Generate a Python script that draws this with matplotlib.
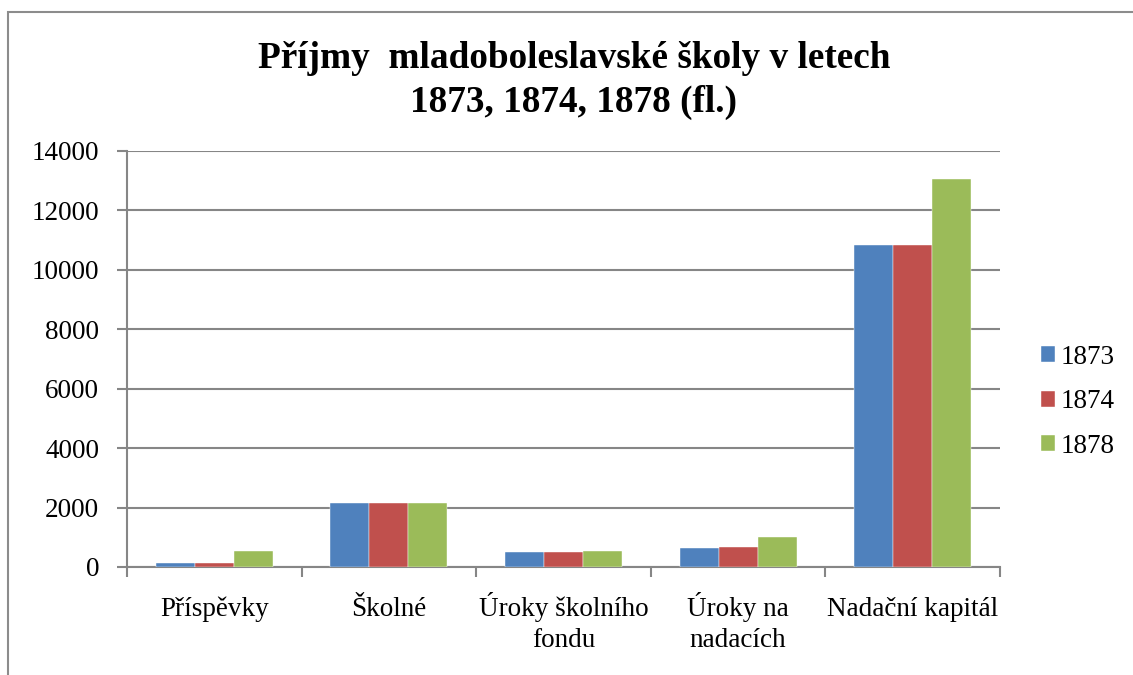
import matplotlib
matplotlib.use("Agg")
import matplotlib.pyplot as plt
import matplotlib.transforms as mtransforms
import numpy as np
from matplotlib.patches import Rectangle

categories = ["Příspěvky", "Školné", "Úroky školního\nfondu", "Úroky na\nnadacích", "Nadační kapitál"]
series_names = ["1873", "1874", "1878"]
v1873 = [140, 2150, 505, 640, 10820]
v1874 = [140, 2160, 505, 660, 10820]
v1878 = [530, 2140, 540, 1010, 13060]
colors = ["#4F81BD", "#C0504D", "#9BBB59"]
yticks = [0, 2000, 4000, 6000, 8000, 10000, 12000, 14000]
title_lines = ["Příjmy  mladoboleslavské školy v letech", "1873, 1874, 1878 (fl.)"]

plt.rcParams['font.family'] = ['Liberation Serif', 'DejaVu Serif']

W, H = 1133, 675
fig = plt.figure(figsize=(W / 100, H / 100), dpi=100)
fig.patch.set_facecolor("white")

# chart border
fig.patches.append(Rectangle((8 / W, -0.05), 1.2, 1 - 12 / H + 0.05, transform=fig.transFigure,
                             fill=False, edgecolor="#8c8c8c", linewidth=1.5))

ax = fig.add_axes([127 / W, 1 - 567 / H, (1000 - 127) / W, (567 - 151) / H])
x = np.arange(len(categories))
bw = 0.223
for i, (vals, name) in enumerate(zip([v1873, v1874, v1878], series_names)):
    ax.bar(x + (i - 1) * bw, vals, width=bw, color=colors[i], label=name, zorder=3,
           edgecolor="white", linewidth=0.3)

ax.set_xlim(-0.5, len(categories) - 0.5)
ax.set_ylim(0, 14000)
ax.set_yticks(yticks)
ax.set_yticklabels([str(t) for t in yticks], fontsize=19.5)
ax.yaxis.grid(True, color="#868686", linewidth=1.5, zorder=0)
ax.set_axisbelow(True)

ax.set_xticks(np.arange(-0.5, len(categories), 1.0))
ax.set_xticklabels([])
ax.tick_params(axis="x", which="major", length=7, width=1.5, color="#868686", direction="out")
ax.tick_params(axis="y", length=7, width=1.5, color="#868686", direction="out", pad=13)

# category labels, line by line
trans = mtransforms.blended_transform_factory(ax.transData, ax.transAxes)
for xi, cat in zip(x, categories):
    for j, line in enumerate(cat.split("\n")):
        off = mtransforms.ScaledTranslation(0, -(49 + 31 * j) / 100, fig.dpi_scale_trans)
        ax.text(xi, 0, line, transform=trans + off, ha="center", va="baseline", fontsize=19.5)

for s in ["top", "right"]:
    ax.spines[s].set_visible(False)
for s in ["left", "bottom"]:
    ax.spines[s].set_color("#868686")
    ax.spines[s].set_linewidth(1.5)

leg = ax.legend(loc="center left", bbox_to_anchor=(1.0185, 0.397), frameon=False, fontsize=19.5,
                handlelength=0.55, handleheight=0.55, handletextpad=0.2, labelspacing=0.72)

for k, line in enumerate(title_lines):
    fig.text(574 / W, 1 - (68 + 44 * k) / H, line, ha="center", va="baseline", fontsize=26.8,
             fontweight="bold")

fig.savefig("out.png", dpi=100, facecolor="white")
